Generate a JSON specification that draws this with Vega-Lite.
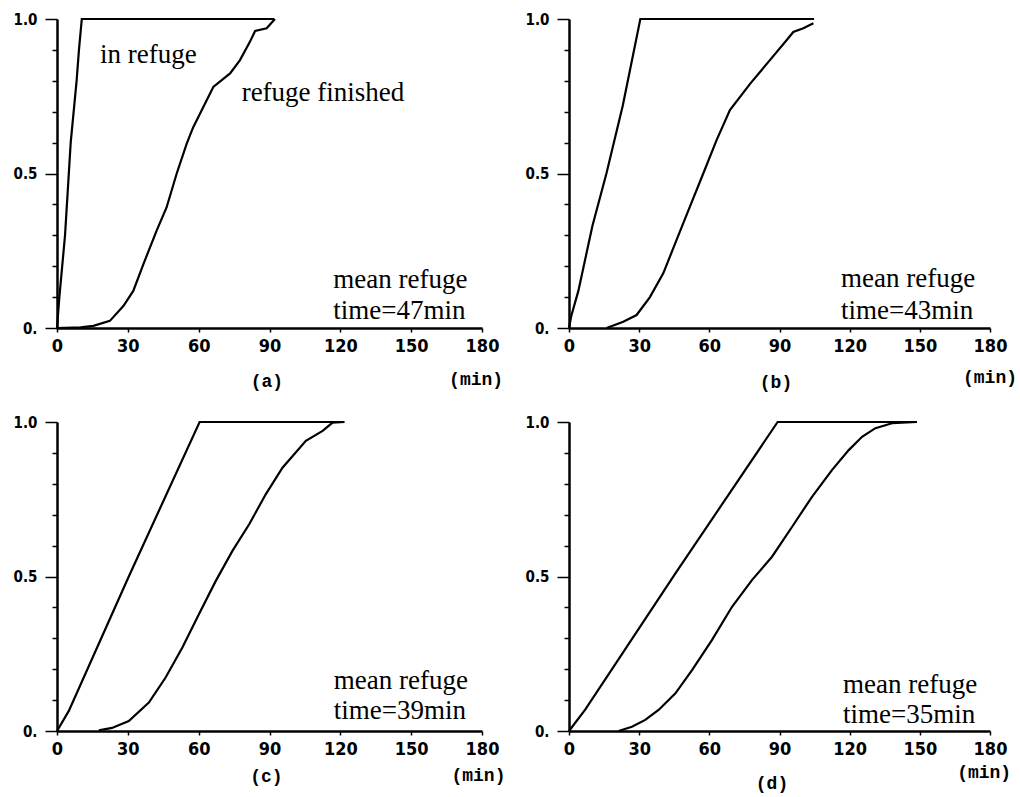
{
  "$schema": "https://vega.github.io/schema/vega-lite/v6.json",
  "padding": {"left": 13, "top": 12, "right": 0, "bottom": 0},
  "background": "white",
  "datasets": {
    "curves": [
      {"panel": "a", "series": "in refuge", "t": 0, "v": 0},
      {"panel": "a", "series": "in refuge", "t": 1, "v": 0.1},
      {"panel": "a", "series": "in refuge", "t": 3.4, "v": 0.3},
      {"panel": "a", "series": "in refuge", "t": 5.8, "v": 0.6},
      {"panel": "a", "series": "in refuge", "t": 8.3, "v": 0.8},
      {"panel": "a", "series": "in refuge", "t": 9.3, "v": 0.9},
      {"panel": "a", "series": "in refuge", "t": 10.5, "v": 1.0},
      {"panel": "a", "series": "in refuge", "t": 92, "v": 1.0},
      {"panel": "a", "series": "finished", "t": 0, "v": 0},
      {"panel": "a", "series": "finished", "t": 10, "v": 0.002},
      {"panel": "a", "series": "finished", "t": 15.4, "v": 0.007},
      {"panel": "a", "series": "finished", "t": 22.4, "v": 0.023},
      {"panel": "a", "series": "finished", "t": 28.1, "v": 0.071},
      {"panel": "a", "series": "finished", "t": 32.3, "v": 0.12},
      {"panel": "a", "series": "finished", "t": 36.6, "v": 0.207},
      {"panel": "a", "series": "finished", "t": 42.2, "v": 0.315},
      {"panel": "a", "series": "finished", "t": 46.4, "v": 0.39},
      {"panel": "a", "series": "finished", "t": 50.7, "v": 0.5},
      {"panel": "a", "series": "finished", "t": 54.9, "v": 0.596},
      {"panel": "a", "series": "finished", "t": 57.7, "v": 0.65},
      {"panel": "a", "series": "finished", "t": 60.6, "v": 0.694},
      {"panel": "a", "series": "finished", "t": 66.2, "v": 0.78},
      {"panel": "a", "series": "finished", "t": 73.3, "v": 0.824},
      {"panel": "a", "series": "finished", "t": 77.5, "v": 0.867},
      {"panel": "a", "series": "finished", "t": 81.7, "v": 0.926},
      {"panel": "a", "series": "finished", "t": 83.9, "v": 0.961},
      {"panel": "a", "series": "finished", "t": 88.8, "v": 0.97},
      {"panel": "a", "series": "finished", "t": 92.3, "v": 1.0},
      {"panel": "b", "series": "in refuge", "t": 0, "v": 0},
      {"panel": "b", "series": "in refuge", "t": 1, "v": 0.04},
      {"panel": "b", "series": "in refuge", "t": 4, "v": 0.12},
      {"panel": "b", "series": "in refuge", "t": 10, "v": 0.33},
      {"panel": "b", "series": "in refuge", "t": 16, "v": 0.5},
      {"panel": "b", "series": "in refuge", "t": 23, "v": 0.72},
      {"panel": "b", "series": "in refuge", "t": 30.5, "v": 1.0},
      {"panel": "b", "series": "in refuge", "t": 104.8, "v": 1.0},
      {"panel": "b", "series": "finished", "t": 16.1, "v": 0},
      {"panel": "b", "series": "finished", "t": 23.2, "v": 0.02},
      {"panel": "b", "series": "finished", "t": 28.9, "v": 0.042},
      {"panel": "b", "series": "finished", "t": 34.6, "v": 0.1},
      {"panel": "b", "series": "finished", "t": 40.3, "v": 0.177},
      {"panel": "b", "series": "finished", "t": 46, "v": 0.285},
      {"panel": "b", "series": "finished", "t": 51.7, "v": 0.393},
      {"panel": "b", "series": "finished", "t": 57.4, "v": 0.5},
      {"panel": "b", "series": "finished", "t": 63.1, "v": 0.608},
      {"panel": "b", "series": "finished", "t": 68.8, "v": 0.705},
      {"panel": "b", "series": "finished", "t": 77.4, "v": 0.79},
      {"panel": "b", "series": "finished", "t": 85.9, "v": 0.867},
      {"panel": "b", "series": "finished", "t": 93.1, "v": 0.932},
      {"panel": "b", "series": "finished", "t": 95.9, "v": 0.958},
      {"panel": "b", "series": "finished", "t": 100.2, "v": 0.97},
      {"panel": "b", "series": "finished", "t": 104.5, "v": 0.986},
      {"panel": "c", "series": "in refuge", "t": 0, "v": 0},
      {"panel": "c", "series": "in refuge", "t": 5, "v": 0.065},
      {"panel": "c", "series": "in refuge", "t": 30.4, "v": 0.5},
      {"panel": "c", "series": "in refuge", "t": 60.4, "v": 1.0},
      {"panel": "c", "series": "in refuge", "t": 121.7, "v": 1.0},
      {"panel": "c", "series": "finished", "t": 17.7, "v": 0.002},
      {"panel": "c", "series": "finished", "t": 23.3, "v": 0.01},
      {"panel": "c", "series": "finished", "t": 30.4, "v": 0.032},
      {"panel": "c", "series": "finished", "t": 38.9, "v": 0.092},
      {"panel": "c", "series": "finished", "t": 46, "v": 0.173},
      {"panel": "c", "series": "finished", "t": 53.1, "v": 0.27},
      {"panel": "c", "series": "finished", "t": 60.1, "v": 0.378},
      {"panel": "c", "series": "finished", "t": 67.2, "v": 0.485},
      {"panel": "c", "series": "finished", "t": 74.3, "v": 0.583},
      {"panel": "c", "series": "finished", "t": 81.4, "v": 0.669},
      {"panel": "c", "series": "finished", "t": 88.4, "v": 0.766},
      {"panel": "c", "series": "finished", "t": 95.5, "v": 0.852},
      {"panel": "c", "series": "finished", "t": 105.4, "v": 0.939},
      {"panel": "c", "series": "finished", "t": 112.5, "v": 0.971},
      {"panel": "c", "series": "finished", "t": 116.7, "v": 0.998},
      {"panel": "c", "series": "finished", "t": 121.7, "v": 1.0},
      {"panel": "d", "series": "in refuge", "t": 0, "v": 0},
      {"panel": "d", "series": "in refuge", "t": 7, "v": 0.07},
      {"panel": "d", "series": "in refuge", "t": 45.5, "v": 0.51},
      {"panel": "d", "series": "in refuge", "t": 89.2, "v": 1.0},
      {"panel": "d", "series": "in refuge", "t": 148.8, "v": 1.0},
      {"panel": "d", "series": "finished", "t": 21.2, "v": 0},
      {"panel": "d", "series": "finished", "t": 26.9, "v": 0.014},
      {"panel": "d", "series": "finished", "t": 32.6, "v": 0.036},
      {"panel": "d", "series": "finished", "t": 38.3, "v": 0.068},
      {"panel": "d", "series": "finished", "t": 45.5, "v": 0.122},
      {"panel": "d", "series": "finished", "t": 52.6, "v": 0.197},
      {"panel": "d", "series": "finished", "t": 61.1, "v": 0.294},
      {"panel": "d", "series": "finished", "t": 69.7, "v": 0.402},
      {"panel": "d", "series": "finished", "t": 78.3, "v": 0.489},
      {"panel": "d", "series": "finished", "t": 86.8, "v": 0.564},
      {"panel": "d", "series": "finished", "t": 95.4, "v": 0.661},
      {"panel": "d", "series": "finished", "t": 103.9, "v": 0.758},
      {"panel": "d", "series": "finished", "t": 112.5, "v": 0.845},
      {"panel": "d", "series": "finished", "t": 119.6, "v": 0.909},
      {"panel": "d", "series": "finished", "t": 125.3, "v": 0.952},
      {"panel": "d", "series": "finished", "t": 131, "v": 0.98},
      {"panel": "d", "series": "finished", "t": 138.1, "v": 0.996},
      {"panel": "d", "series": "finished", "t": 148.8, "v": 1.0}
    ],
    "notes": [
      {"panel": "a", "label": "in refuge", "t": 18.2, "v": 0.856},
      {"panel": "a", "label": "refuge finished", "t": 78.2, "v": 0.734},
      {"panel": "a", "label": "mean refuge", "t": 117, "v": 0.131},
      {"panel": "a", "label": "time=47min", "t": 117, "v": 0.028},
      {"panel": "b", "label": "mean refuge", "t": 116.3, "v": 0.132},
      {"panel": "b", "label": "time=43min", "t": 116.3, "v": 0.028},
      {"panel": "c", "label": "mean refuge", "t": 117.2, "v": 0.135},
      {"panel": "c", "label": "time=39min", "t": 117.2, "v": 0.038},
      {"panel": "d", "label": "mean refuge", "t": 117.2, "v": 0.122},
      {"panel": "d", "label": "time=35min", "t": 117.2, "v": 0.027}
    ],
    "captions": [
      {"panel": "a", "label": "(a)", "t": 88.9, "v": -0.175},
      {"panel": "a", "label": "(min)", "t": 177.5, "v": -0.169},
      {"panel": "b", "label": "(b)", "t": 88.5, "v": -0.178},
      {"panel": "b", "label": "(min)", "t": 180, "v": -0.162},
      {"panel": "c", "label": "(c)", "t": 88.7, "v": -0.149},
      {"panel": "c", "label": "(min)", "t": 178.5, "v": -0.146},
      {"panel": "d", "label": "(d)", "t": 86.8, "v": -0.172},
      {"panel": "d", "label": "(min)", "t": 177.5, "v": -0.136}
    ]
  },
  "columns": 2,
  "spacing": {"row": 94, "column": 87},
  "bounds": "flush",
  "concat": [
    {
      "width": 425, "height": 309,
      "encoding": {
        "x": {"field": "t", "type": "quantitative", "scale": {"domain": [0, 180], "nice": false}, "axis": {"values": [0, 30, 60, 90, 120, 150, 180], "labelOverlap": false}},
        "y": {"field": "v", "type": "quantitative", "scale": {"domain": [0, 1], "nice": false}, "axis": {"values": [0, 0.1, 0.2, 0.3, 0.4, 0.5, 0.6, 0.7, 0.8, 0.9, 1], "labelOverlap": false, "tickSize": 12, "tickDash": {"condition": {"test": "datum.value === 0 || datum.value === 0.5 || datum.value === 1", "value": [20, 1]}, "value": [5, 30]}}}
      },
      "layer": [
        {"data": {"name": "curves"}, "transform": [{"filter": "datum.panel === 'a'"}], "mark": {"type": "line", "color": "black", "strokeWidth": 2.2}, "encoding": {"detail": {"field": "series"}}},
        {"data": {"name": "notes"}, "transform": [{"filter": "datum.panel === 'a'"}], "mark": {"type": "text", "font": "Liberation Serif", "fontSize": 27, "align": "left", "baseline": "alphabetic", "color": "black"}, "encoding": {"text": {"field": "label"}}},
        {"data": {"name": "captions"}, "transform": [{"filter": "datum.panel === 'a'"}], "mark": {"type": "text", "font": "Liberation Mono", "fontWeight": "bold", "fontSize": 18, "align": "center", "baseline": "middle", "color": "black"}, "encoding": {"text": {"field": "label"}}}
      ]
    },
    {
      "width": 421, "height": 309,
      "encoding": {
        "x": {"field": "t", "type": "quantitative", "scale": {"domain": [0, 180], "nice": false}, "axis": {"values": [0, 30, 60, 90, 120, 150, 180], "labelOverlap": false}},
        "y": {"field": "v", "type": "quantitative", "scale": {"domain": [0, 1], "nice": false}, "axis": {"values": [0, 0.1, 0.2, 0.3, 0.4, 0.5, 0.6, 0.7, 0.8, 0.9, 1], "labelOverlap": false, "tickSize": 12, "tickDash": {"condition": {"test": "datum.value === 0 || datum.value === 0.5 || datum.value === 1", "value": [20, 1]}, "value": [5, 30]}}}
      },
      "layer": [
        {"data": {"name": "curves"}, "transform": [{"filter": "datum.panel === 'b'"}], "mark": {"type": "line", "color": "black", "strokeWidth": 2.2}, "encoding": {"detail": {"field": "series"}}},
        {"data": {"name": "notes"}, "transform": [{"filter": "datum.panel === 'b'"}], "mark": {"type": "text", "font": "Liberation Serif", "fontSize": 27, "align": "left", "baseline": "alphabetic", "color": "black"}, "encoding": {"text": {"field": "label"}}},
        {"data": {"name": "captions"}, "transform": [{"filter": "datum.panel === 'b'"}], "mark": {"type": "text", "font": "Liberation Mono", "fontWeight": "bold", "fontSize": 18, "align": "center", "baseline": "middle", "color": "black"}, "encoding": {"text": {"field": "label"}}}
      ]
    },
    {
      "width": 425, "height": 309,
      "encoding": {
        "x": {"field": "t", "type": "quantitative", "scale": {"domain": [0, 180], "nice": false}, "axis": {"values": [0, 30, 60, 90, 120, 150, 180], "labelOverlap": false}},
        "y": {"field": "v", "type": "quantitative", "scale": {"domain": [0, 1], "nice": false}, "axis": {"values": [0, 0.1, 0.2, 0.3, 0.4, 0.5, 0.6, 0.7, 0.8, 0.9, 1], "labelOverlap": false, "tickSize": 12, "tickDash": {"condition": {"test": "datum.value === 0 || datum.value === 0.5 || datum.value === 1", "value": [20, 1]}, "value": [5, 30]}}}
      },
      "layer": [
        {"data": {"name": "curves"}, "transform": [{"filter": "datum.panel === 'c'"}], "mark": {"type": "line", "color": "black", "strokeWidth": 2.2}, "encoding": {"detail": {"field": "series"}}},
        {"data": {"name": "notes"}, "transform": [{"filter": "datum.panel === 'c'"}], "mark": {"type": "text", "font": "Liberation Serif", "fontSize": 27, "align": "left", "baseline": "alphabetic", "color": "black"}, "encoding": {"text": {"field": "label"}}},
        {"data": {"name": "captions"}, "transform": [{"filter": "datum.panel === 'c'"}], "mark": {"type": "text", "font": "Liberation Mono", "fontWeight": "bold", "fontSize": 18, "align": "center", "baseline": "middle", "color": "black"}, "encoding": {"text": {"field": "label"}}}
      ]
    },
    {
      "width": 421, "height": 309,
      "encoding": {
        "x": {"field": "t", "type": "quantitative", "scale": {"domain": [0, 180], "nice": false}, "axis": {"values": [0, 30, 60, 90, 120, 150, 180], "labelOverlap": false}},
        "y": {"field": "v", "type": "quantitative", "scale": {"domain": [0, 1], "nice": false}, "axis": {"values": [0, 0.1, 0.2, 0.3, 0.4, 0.5, 0.6, 0.7, 0.8, 0.9, 1], "labelOverlap": false, "tickSize": 12, "tickDash": {"condition": {"test": "datum.value === 0 || datum.value === 0.5 || datum.value === 1", "value": [20, 1]}, "value": [5, 30]}}}
      },
      "layer": [
        {"data": {"name": "curves"}, "transform": [{"filter": "datum.panel === 'd'"}], "mark": {"type": "line", "color": "black", "strokeWidth": 2.2}, "encoding": {"detail": {"field": "series"}}},
        {"data": {"name": "notes"}, "transform": [{"filter": "datum.panel === 'd'"}], "mark": {"type": "text", "font": "Liberation Serif", "fontSize": 27, "align": "left", "baseline": "alphabetic", "color": "black"}, "encoding": {"text": {"field": "label"}}},
        {"data": {"name": "captions"}, "transform": [{"filter": "datum.panel === 'd'"}], "mark": {"type": "text", "font": "Liberation Mono", "fontWeight": "bold", "fontSize": 18, "align": "center", "baseline": "middle", "color": "black"}, "encoding": {"text": {"field": "label"}}}
      ]
    }
  ],
  "config": {
    "view": {"stroke": null},
    "axis": {"grid": false, "title": null, "domainColor": "black", "domainWidth": 2.5, "tickColor": "black", "tickWidth": 1.5, "labelColor": "black", "labelFont": "Liberation Sans Narrow, DejaVu Sans Condensed, Liberation Mono", "labelFontWeight": "bold", "labelFlush": false},
    "axisX": {"tickSize": 4, "labelFontSize": 18, "labelPadding": 5},
    "axisY": {"labelFontSize": 15, "labelPadding": 8, "minExtent": 40, "maxExtent": 40, "labelExpr": "datum.value === 0 ? '0.' : (datum.value === 0.5 ? '0.5' : (datum.value === 1 ? '1.0' : ''))"}
  }
}
